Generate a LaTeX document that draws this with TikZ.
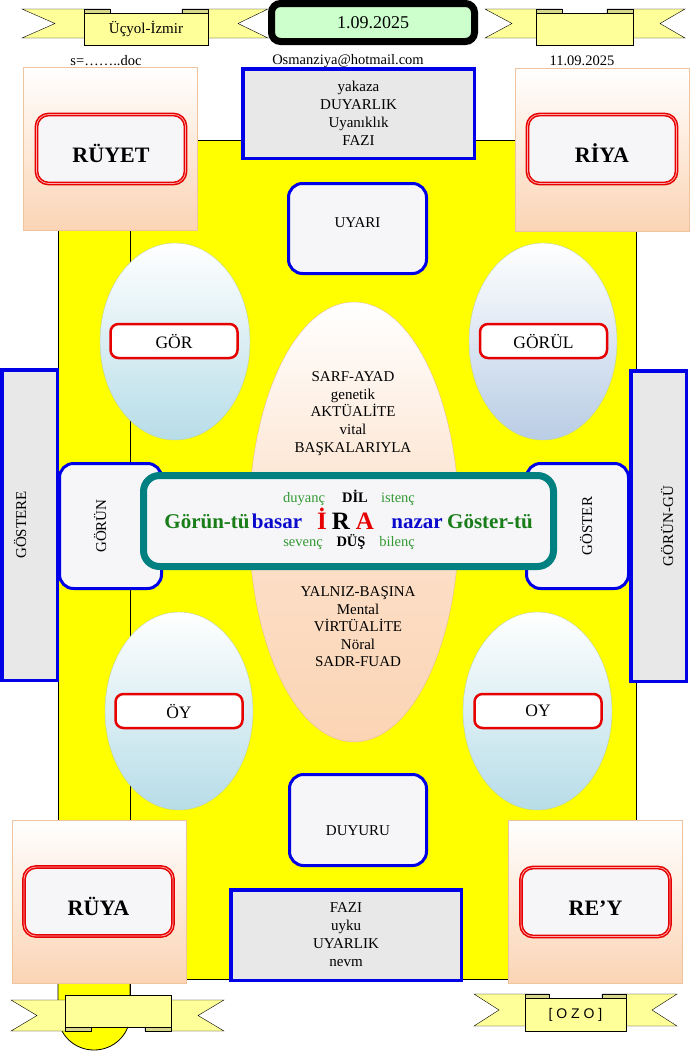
\documentclass[tikz,border=0pt]{standalone}
\usepackage{fontspec}
\setmainfont{Liberation Serif}
\newfontfamily\ozofont{Liberation Sans}
\usepackage{xcolor}
\usetikzlibrary{shapes,positioning}

\definecolor{sari}{RGB}{255,255,0}
\definecolor{seritsari}{RGB}{255,255,153}
\definecolor{katlama}{RGB}{215,215,140}
\definecolor{tarihyesil}{RGB}{204,255,204}
\definecolor{gri}{RGB}{232,232,232}
\definecolor{beyazimsi}{RGB}{246,246,248}
\definecolor{mavi}{RGB}{0,0,230}
\definecolor{camgobegi}{RGB}{0,128,128}
\definecolor{seftali}{RGB}{251,212,180}
\definecolor{acikmavi}{RGB}{183,221,232}
\definecolor{celikmavi}{RGB}{185,205,229}
\definecolor{kenar}{RGB}{190,210,150}
\definecolor{yesil}{RGB}{51,153,51}
\definecolor{koyuyesil}{RGB}{25,125,25}
\definecolor{lacivert}{RGB}{10,10,205}
\definecolor{kirmizi}{RGB}{230,0,0}

\begin{document}
\begin{tikzpicture}[x=1pt, y=-1pt, semithick]
  \tikzstyle{grikutu}=[rectangle, draw=mavi, line width=3.5pt, fill=gri, inner sep=0pt, align=center, font=\fontsize{15}{18}\selectfont]
  \tikzstyle{mavikutu}=[rectangle, rounded corners=14pt, draw=mavi, line width=3pt, fill=beyazimsi, inner sep=0pt, font=\fontsize{15}{18}\selectfont]
  \tikzstyle{kose}=[rectangle, draw=seftali!80!brown, thin, top color=white, bottom color=seftali, inner sep=0pt, minimum width=174pt, minimum height=163pt]
  \tikzstyle{adkutu}=[rectangle, rounded corners=12pt, draw=kirmizi, line width=1.5pt, double=red!35, double distance=0.8pt, fill=beyazimsi, inner sep=0pt, minimum width=149pt, minimum height=69pt, font=\fontsize{22}{22}\selectfont\bfseries, text height=28pt, text depth=1pt]
  \tikzstyle{yumurta}=[ellipse, draw=kenar, thin, top color=white, bottom color=acikmavi, inner sep=0pt]
  \tikzstyle{etiket}=[rectangle, rounded corners=8pt, draw=kirmizi, line width=2.5pt, fill=white, inner sep=0pt, minimum width=127pt, minimum height=34pt, font=\fontsize{17.5}{18}\selectfont]
  \tikzstyle{seritp}=[fill=seritsari, draw=black, thin]
  \tikzstyle{kat}=[fill=katlama, draw=black, thin]
  \tikzstyle{kucuk}=[font=\fontsize{14.5}{15}\selectfont, anchor=base, inner sep=0pt]
  \tikzstyle{buyuk}=[font=\fontsize{21}{21}\selectfont\bfseries, anchor=base, inner sep=0pt]

  \useasboundingbox (0,0) rectangle (689,1052);

  % sari cerceve
  \filldraw[fill=sari, draw=black, thick] (58,975) -- (58,1015) arc[start angle=180, end angle=0, x radius=36, y radius=35] -- (130,975);
  \filldraw[fill=sari, draw=black, thick] (58,140) rectangle (636,979);
  \draw[thick] (130,140) -- (130,1015);

  % elipsler
  \node[yumurta, top color=white, bottom color=seftali, middle color=seftali!70, draw=seftali!70!brown, minimum width=210pt, minimum height=440pt] (orta) at (354,522) {};
  \node[yumurta, minimum width=150pt, minimum height=197pt] (gorY) at (175,341.5) {};
  \node[yumurta, bottom color=celikmavi, minimum width=148pt, minimum height=197pt] (gorulY) at (543,341.5) {};
  \node[yumurta, minimum width=148pt, minimum height=198pt] (oyY1) at (179,711) {};
  \node[yumurta, minimum width=149pt, minimum height=198pt] (oyY2) at (537.5,711) {};

  \node[etiket] (gor)   at (174,341)   {GÖR};
  \node[etiket] (gorul) at (543.5,341) {GÖRÜL};
  \node[etiket] (oy1)   at (179,711)   {ÖY};
  \node[etiket] (oy2)   at (538,711)   {OY};

  \node[align=center, font=\fontsize{15}{17.75}\selectfont] (ust) at (353,413.5) {SARF-AYAD\\genetik\\AKTÜALİTE\\vital\\BAŞKALARIYLA};
  \node[align=center, font=\fontsize{15}{17.5}\selectfont]  (alt) at (358,627)   {YALNIZ-BAŞINA\\Mental\\VİRTÜALİTE\\Nöral\\SADR-FUAD};

  % kutular
  \node[grikutu, minimum width=231.5pt, minimum height=89.5pt] (yakaza) at (358.5,113.5) {yakaza\\DUYARLIK\\Uyanıklık\\FAZI};
  \node[grikutu, minimum width=230.5pt, minimum height=90.5pt] (nevm)   at (346,935)     {FAZI\\uyku\\UYARLIK\\nevm};
  \node[mavikutu, minimum width=138pt, minimum height=90pt, text height=10pt, text depth=13pt] (uyari)  at (357.5,228.5) {UYARI};
  \node[mavikutu, minimum width=137pt, minimum height=91pt, text height=31pt, text depth=1pt]  (duyuru) at (358,820)     {DUYURU};

  \node[mavikutu, rotate=90, minimum width=125pt, minimum height=102pt, text height=10pt, text depth=19pt] (gorun)  at (110.5,526) {GÖRÜN};
  \node[mavikutu, rotate=90, minimum width=125pt, minimum height=102pt, text height=30pt, text depth=1pt]  (goster) at (577.5,526) {GÖSTER};
  \node[grikutu, rotate=90, minimum width=310.5pt, minimum height=55.5pt, text height=10pt, text depth=17pt] (gostere) at (29.5,525)  {GÖSTERE};
  \node[grikutu, rotate=90, minimum width=310.5pt, minimum height=55.5pt, text height=30pt, text depth=1pt]  (gorungu) at (658.5,526) {GÖRÜN-GÜ};

  % orta kutu
  \node[rectangle, rounded corners=16pt, draw=camgobegi, line width=7pt, fill=beyazimsi, minimum width=410pt, minimum height=91pt] (merkez) at (348.5,521) {};

  \node[kucuk, text=yesil]                   (duyanc) at (304,502) {duyanç};
  \node[kucuk, font=\fontsize{14.5}{15}\selectfont\bfseries] (dilY) at (355,502) {DİL};
  \node[kucuk, text=yesil]                   (istenc) at (398,502) {istenç};
  \node[buyuk, text=koyuyesil]               (gorun2)  at (207,528) {Görün-tü};
  \node[buyuk, text=lacivert]                (basar)   at (277,528) {basar};
  \node[buyuk, font=\fontsize{25}{25}\selectfont\bfseries, text=kirmizi] (harfI) at (322,529) {İ};
  \node[buyuk, font=\fontsize{25}{25}\selectfont\bfseries]               (harfR) at (341,529) {R};
  \node[buyuk, font=\fontsize{25}{25}\selectfont\bfseries, text=kirmizi] (harfA) at (365,529) {A};
  \node[buyuk, text=lacivert]                (nazar)   at (417,528) {nazar};
  \node[buyuk, text=koyuyesil]               (goster2) at (490,528) {Göster-tü};
  \node[kucuk, text=yesil]                   (sevenc) at (303,546) {sevenç};
  \node[kucuk, font=\fontsize{14.5}{15}\selectfont\bfseries] (dus) at (351,546) {DÜŞ};
  \node[kucuk, text=yesil]                   (bilenc) at (397,546) {bilenç};

  % kose kutulari
  \node[kose] (k1) at (110.5,149) {};
  \node[adkutu] (ruyet) at (111,149) {RÜYET};
  \node[kose] (k2) at (602,150) {};
  \node[adkutu] (riya) at (602,149) {RİYA};
  \node[kose] (k3) at (99,901.5) {};
  \node[adkutu] (ruya) at (98.5,901.5) {RÜYA};
  \node[kose] (k4) at (595,902) {};
  \node[adkutu] (rey) at (595.5,902) {RE’Y};

  % seritler
  \filldraw[seritp] (22,9) -- (110,9) -- (110,38) -- (22,38) -- (55,23.5) -- cycle;
  \filldraw[seritp] (268,9) -- (182,9) -- (182,38) -- (268,38) -- (238,23.5) -- cycle;
  \filldraw[kat] (84,9) rectangle (110,13);
  \filldraw[kat] (182,9) rectangle (208,13);
  \node[rectangle, draw=black, thin, fill=seritsari, minimum width=124pt, minimum height=32pt, font=\fontsize{15}{15}\selectfont] (ucyol) at (146,29) {Üçyol-İzmir};

  \filldraw[seritp] (485,9) -- (562,9) -- (562,38) -- (485,38) -- (512,23.5) -- cycle;
  \filldraw[seritp] (685,9) -- (607,9) -- (607,38) -- (685,38) -- (660,23.5) -- cycle;
  \filldraw[kat] (536,9) rectangle (562,13);
  \filldraw[kat] (607,9) rectangle (633,13);
  \node[rectangle, draw=black, thin, fill=seritsari, minimum width=97pt, minimum height=32pt] (serit2) at (584.5,29) {};

  \node[rectangle, rounded corners=9pt, draw=black, line width=7pt, fill=tarihyesil, minimum width=203pt, minimum height=38pt, font=\fontsize{18}{18}\selectfont] (tarih) at (373,22.5) {1.09.2025};

  \node[font=\fontsize{14.5}{15}\selectfont] (dosya)  at (106,61) {s=……..doc};
  \node[font=\fontsize{14.5}{15}\selectfont] (eposta) at (348,61) {Osmanziya@hotmail.com};
  \node[font=\fontsize{14.5}{15}\selectfont] (tarih2) at (582,61) {11.09.2025};

  \filldraw[seritp] (11,1000) -- (91,1000) -- (91,1031) -- (11,1031) -- (37,1015.5) -- cycle;
  \filldraw[seritp] (224,1000) -- (145,1000) -- (145,1031) -- (224,1031) -- (198,1015.5) -- cycle;
  \filldraw[kat] (65,1027) rectangle (91,1031);
  \filldraw[kat] (145,1027) rectangle (171,1031);
  \node[rectangle, draw=black, thin, fill=seritsari, minimum width=106pt, minimum height=32pt] (serit3) at (118,1011) {};

  \filldraw[seritp] (474,994) -- (549,994) -- (549,1026) -- (474,1026) -- (499,1010) -- cycle;
  \filldraw[seritp] (677,994) -- (602,994) -- (602,1026) -- (677,1026) -- (652,1010) -- cycle;
  \filldraw[kat] (525,994) rectangle (549,998);
  \filldraw[kat] (602,994) rectangle (626,998);
  \node[rectangle, draw=black, thin, fill=seritsari, minimum width=101pt, minimum height=33pt, font=\ozofont\fontsize{14}{14}\selectfont] (ozo) at (575.5,1014.5) {[ O Z O ]};
\end{tikzpicture}
\end{document}
